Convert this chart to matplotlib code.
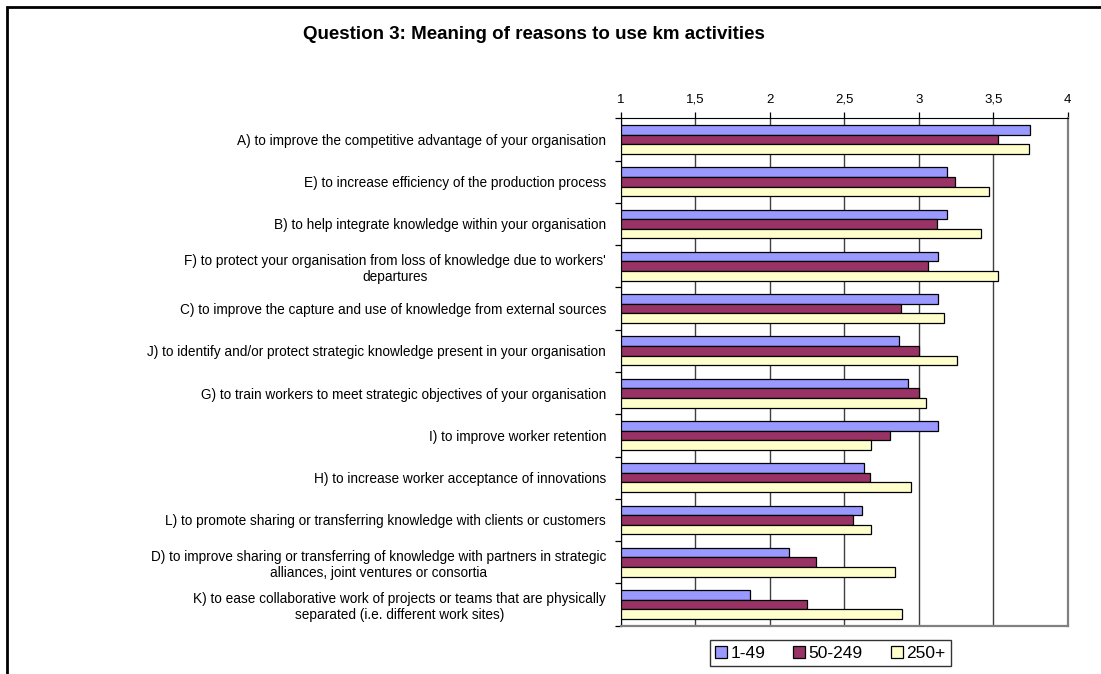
"""
Gráfico de barras horizontales: importancia de las razones para usar actividades de KM por tamaño de empresa.
"""
#-->Importar librerías
import numpy as np
import matplotlib
matplotlib.use("Agg")
import matplotlib.pyplot as plt
from matplotlib.patches import Patch, Rectangle

#-->Datos del gráfico (orden de arriba hacia abajo)
categorias = [
    "A) to improve the competitive advantage of your organisation",
    "E) to increase efficiency of the production process",
    "B) to help integrate knowledge within your organisation",
    "F) to protect your organisation from loss of knowledge due to workers'\ndepartures",
    "C) to improve the capture and use of knowledge from external sources",
    "J) to identify and/or protect strategic knowledge present in your organisation",
    "G) to train workers to meet strategic objectives of your organisation",
    "I) to improve worker retention",
    "H) to increase worker acceptance of innovations",
    "L) to promote sharing or transferring knowledge with clients or customers",
    "D) to improve sharing or transferring of knowledge with partners in strategic\nalliances, joint ventures or consortia",
    "K) to ease collaborative work of projects or teams that are physically\nseparated (i.e. different work sites)",
]
series = ["1-49", "50-249", "250+"]
valores_1_49 = [3.75, 3.19, 3.19, 3.13, 3.13, 2.87, 2.93, 3.13, 2.63, 2.62, 2.13, 1.87]
valores_50_249 = [3.53, 3.24, 3.12, 3.06, 2.88, 3.00, 3.00, 2.81, 2.67, 2.56, 2.31, 2.25]
valores_250 = [3.74, 3.47, 3.42, 3.53, 3.17, 3.26, 3.05, 2.68, 2.95, 2.68, 2.84, 2.89]
ticks_x = [1, 1.5, 2, 2.5, 3, 3.5, 4]
etiquetas_x = ["1", "1,5", "2", "2,5", "3", "3,5", "4"]

colores = ["#9999FF", "#993366", "#FFFFCC"]
OUTPUT_PATH = "out.png"


def main():
    plt.rcParams["font.family"] = ["Liberation Sans", "DejaVu Sans"]

    fig = plt.figure(figsize=(11.01, 6.74), dpi=100)
    fig.patch.set_facecolor("white")

    #-->Marco exterior del gráfico
    fig.patches.append(Rectangle((7 / 1101, -0.1), 1.2, 1.1 - 7 / 674,
                                 transform=fig.transFigure, fill=False,
                                 edgecolor="black", linewidth=2, zorder=0))

    ax = fig.add_axes([0.5638, 0.0717, 0.4060, 0.7528])

    #-->Barras agrupadas
    n = len(categorias)
    y = np.arange(n)
    alto = 0.227
    datos = [valores_1_49, valores_50_249, valores_250]
    for i, (vals, color, nombre) in enumerate(zip(datos, colores, series)):
        ax.barh(y + (i - 1) * alto, np.array(vals) - 1, left=1, height=alto,
                color=color, edgecolor="black", linewidth=0.9, label=nombre, zorder=3)

    #-->Ejes y escalas
    ax.set_xlim(1, 4)
    ax.set_ylim(n - 0.5, -0.5)
    ax.xaxis.tick_top()
    ax.set_xticks(ticks_x)
    ax.set_xticklabels(etiquetas_x, fontsize=9.5)
    ax.tick_params(axis="x", direction="out", length=4, width=0.9, pad=5, colors="black")

    ax.set_yticks(y)
    ax.set_yticklabels(categorias, fontsize=9.8)
    for lab in ax.get_yticklabels():
        lab.set_multialignment("center")
    ax.tick_params(axis="y", which="major", length=0, pad=10.5)
    ax.set_yticks(np.arange(n + 1) - 0.5, minor=True)
    ax.tick_params(axis="y", which="minor", direction="out", length=4, width=0.9)

    #-->Rejilla vertical
    ax.grid(axis="x", color="#404040", linewidth=1, zorder=0)
    ax.set_axisbelow(True)

    ax.spines["top"].set_color("black")
    ax.spines["left"].set_color("black")
    ax.spines["right"].set_color("#808080")
    ax.spines["bottom"].set_color("#808080")
    ax.spines["right"].set_linewidth(1.6)
    ax.spines["bottom"].set_linewidth(1.6)

    #-->Título
    fig.text(0.4846, 0.949, "Question 3: Meaning of reasons to use km activities",
             ha="center", va="center", fontsize=13.5, fontweight="bold")

    #-->Leyenda
    handles = [Patch(facecolor=c, edgecolor="black", linewidth=0.9) for c in colores]
    leg = fig.legend(handles, series, loc="center", bbox_to_anchor=(0.754, 0.031),
                     ncol=3, fontsize=12.5, frameon=True, fancybox=False,
                     handlelength=0.7, handleheight=0.7, handletextpad=0.2,
                     columnspacing=1.6, borderpad=0.3)
    leg.get_frame().set_edgecolor("black")
    leg.get_frame().set_linewidth(1)

    fig.savefig(OUTPUT_PATH, dpi=100)


#-->Ejecutar el script principal
if __name__ == "__main__":
    main()
